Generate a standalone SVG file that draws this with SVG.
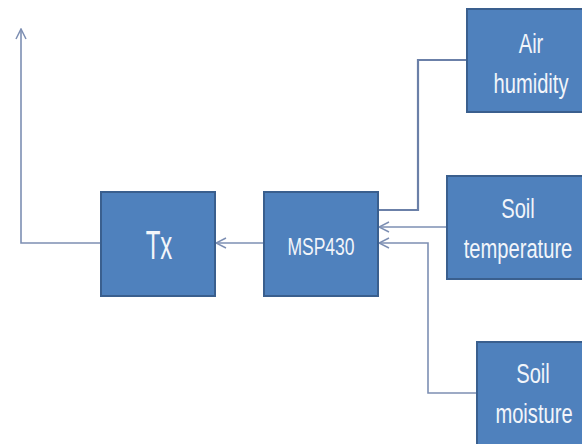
<svg xmlns="http://www.w3.org/2000/svg" width="582" height="444" viewBox="0 0 582 444">
<style>
.box{fill:#4f81bd;stroke:#3a5f8e;stroke-width:2}
.lbl{font-family:"Liberation Sans",Arial,sans-serif;fill:#f2f5fa;text-anchor:middle}
.wire{fill:none;stroke:#7d8fb3;stroke-width:1.6}
</style>
<defs>
<marker id="open" viewBox="0 0 12 12" refX="11" refY="6" markerWidth="12" markerHeight="12" markerUnits="userSpaceOnUse" orient="auto">
<path d="M1,1 L11,6 L1,11" fill="none" stroke="#7d8fb3" stroke-width="1.5"/>
</marker>
</defs>
<rect width="582" height="444" fill="#ffffff"/>
<g id="connectors">
<polyline class="wire" points="101,243 21,243 21,29" marker-end="url(#open)"/>
<line class="wire" x1="264" y1="243" x2="216" y2="243" marker-end="url(#open)"/>
<polyline class="wire" points="467,60 418,60 418,210 379,210" style="stroke-width:2.2;stroke:#6b80a8"/>
<line class="wire" x1="447" y1="227" x2="379" y2="227" marker-end="url(#open)"/>
<polyline class="wire" points="477,393 428,393 428,243 379,243" marker-end="url(#open)"/>
</g>
<g id="tx">
<rect class="box" x="101" y="192" width="114" height="104"/>
<text class="lbl" font-size="40" transform="translate(159,259) scale(0.6,1)">Tx</text>
</g>
<g id="msp430">
<rect class="box" x="264" y="192" width="114" height="104"/>
<text class="lbl" font-size="24" transform="translate(321,255) scale(0.73,1)">MSP430</text>
</g>
<g id="air">
<rect class="box" x="467" y="9" width="120" height="103"/>
<text class="lbl" font-size="28" transform="translate(531,53) scale(0.72,1)">Air</text>
<text class="lbl" font-size="28" transform="translate(531,93) scale(0.72,1)">humidity</text>
</g>
<g id="soiltemp">
<rect class="box" x="447" y="176" width="140" height="103"/>
<text class="lbl" font-size="28" transform="translate(518,218) scale(0.72,1)">Soil</text>
<text class="lbl" font-size="28" transform="translate(518,258) scale(0.72,1)">temperature</text>
</g>
<g id="soilmoist">
<rect class="box" x="477" y="342" width="110" height="105"/>
<text class="lbl" font-size="28" transform="translate(533,383) scale(0.72,1)">Soil</text>
<text class="lbl" font-size="28" transform="translate(534,423) scale(0.72,1)">moisture</text>
</g>
</svg>
